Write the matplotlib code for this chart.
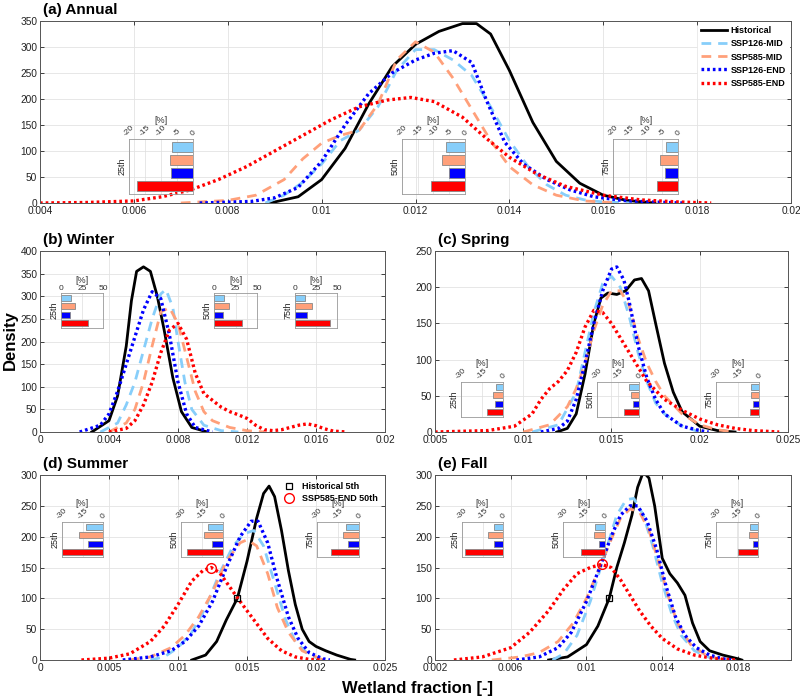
import numpy as np
import matplotlib.pyplot as plt

plt.rcParams['font.family'] = ['Liberation Sans', 'DejaVu Sans']
plt.rcParams['axes.unicode_minus'] = False

names = ['Historical', 'SSP126-MID', 'SSP585-MID', 'SSP126-END', 'SSP585-END']
colors = ['black', '#87CEFA', '#FFA07A', '#0000FF', '#FF0000']

# ---- (a) Annual: density curves, x = wetland fraction
ann_hist_x = [0.0089, 0.0095, 0.0100, 0.0105, 0.0110, 0.0115, 0.0120, 0.0125, 0.0130, 0.0133, 0.0136, 0.0140, 0.0145, 0.0150, 0.0155, 0.0160, 0.0165, 0.0171]
ann_hist_y = [0, 12, 45, 105, 190, 262, 305, 330, 345, 345, 325, 255, 155, 80, 38, 15, 5, 0]
ann_126m_x = [0.0088, 0.0092, 0.0096, 0.0100, 0.0104, 0.0108, 0.0112, 0.0116, 0.0120, 0.0124, 0.0128, 0.0132, 0.0136, 0.0140, 0.0144, 0.0148, 0.0152, 0.0156, 0.0160, 0.0166]
ann_126m_y = [0, 15, 40, 75, 120, 140, 185, 255, 295, 295, 275, 245, 185, 120, 70, 35, 15, 6, 2, 0]
ann_585m_x = [0.0070, 0.0080, 0.0086, 0.0092, 0.0096, 0.0100, 0.0104, 0.0108, 0.0112, 0.0116, 0.0120, 0.0124, 0.0128, 0.0132, 0.0136, 0.0140, 0.0145, 0.0150, 0.0156, 0.0163]
ann_585m_y = [0, 5, 15, 45, 85, 115, 130, 140, 190, 275, 310, 290, 240, 180, 120, 70, 35, 15, 4, 0]
ann_126e_x = [0.0074, 0.0085, 0.0090, 0.0095, 0.0100, 0.0105, 0.0110, 0.0115, 0.0120, 0.0124, 0.0128, 0.0132, 0.0135, 0.0139, 0.0143, 0.0148, 0.0153, 0.0158, 0.0164, 0.0170, 0.0177]
ann_126e_y = [0, 3, 10, 30, 80, 150, 210, 250, 275, 288, 293, 270, 200, 117, 75, 45, 25, 12, 5, 2, 0]
ann_585e_x = [0.0040, 0.0050, 0.0060, 0.0066, 0.0072, 0.0078, 0.0084, 0.0090, 0.0096, 0.0102, 0.0108, 0.0114, 0.0119, 0.0124, 0.0130, 0.0135, 0.0140, 0.0146, 0.0152, 0.0160, 0.0168, 0.0176, 0.0183]
ann_585e_y = [0, 1, 4, 12, 25, 45, 70, 100, 130, 160, 185, 198, 203, 195, 165, 125, 88, 55, 32, 15, 6, 2, 0]

# ---- (b) Winter
win_hist_x = [0.0030, 0.0040, 0.0045, 0.0050, 0.0053, 0.0056, 0.0060, 0.0064, 0.0068, 0.0072, 0.0077, 0.0082, 0.0088, 0.0097]
win_hist_y = [0, 25, 80, 190, 290, 355, 365, 355, 300, 225, 120, 45, 10, 0]
win_126m_x = [0.0035, 0.0045, 0.0050, 0.0055, 0.0060, 0.0065, 0.0070, 0.0073, 0.0077, 0.0080, 0.0084, 0.0088, 0.0095, 0.0105, 0.0115]
win_126m_y = [0, 20, 60, 110, 180, 250, 305, 315, 275, 200, 110, 50, 15, 3, 0]
win_585m_x = [0.0040, 0.0050, 0.0055, 0.0060, 0.0065, 0.0070, 0.0075, 0.0080, 0.0085, 0.0090, 0.0095, 0.0100, 0.0110, 0.0120, 0.0130]
win_585m_y = [0, 20, 50, 110, 190, 265, 275, 240, 165, 90, 45, 25, 10, 3, 0]
win_126e_x = [0.0023, 0.0035, 0.0040, 0.0045, 0.0050, 0.0055, 0.0060, 0.0065, 0.0070, 0.0075, 0.0080, 0.0085, 0.0090, 0.0100]
win_126e_y = [0, 15, 40, 90, 150, 210, 270, 310, 295, 215, 110, 40, 10, 0]
win_585e_x = [0.0040, 0.0050, 0.0055, 0.0060, 0.0065, 0.0070, 0.0075, 0.0080, 0.0085, 0.0090, 0.0095, 0.0100, 0.0105, 0.0110, 0.0115, 0.0120, 0.0125, 0.0130, 0.0135, 0.0140, 0.0145, 0.0150, 0.0155, 0.0160, 0.0165, 0.0170, 0.0178]
win_585e_y = [0, 8, 25, 60, 110, 175, 225, 240, 205, 130, 85, 70, 55, 45, 38, 30, 15, 5, 3, 5, 10, 15, 18, 14, 7, 2, 0]

# ---- (c) Spring
spr_hist_x = [0.0119, 0.0125, 0.0130, 0.0135, 0.0140, 0.0144, 0.0148, 0.0153, 0.0158, 0.0163, 0.0167, 0.0171, 0.0175, 0.0180, 0.0185, 0.0190, 0.0200, 0.0210, 0.0220]
spr_hist_y = [0, 5, 25, 80, 150, 185, 192, 190, 195, 210, 212, 195, 150, 95, 55, 28, 8, 2, 0]
spr_126m_x = [0.0105, 0.0120, 0.0130, 0.0135, 0.0140, 0.0145, 0.0150, 0.0155, 0.0160, 0.0165, 0.0170, 0.0175, 0.0180, 0.0190, 0.0200]
spr_126m_y = [0, 10, 55, 110, 165, 205, 215, 200, 160, 110, 70, 40, 25, 8, 0]
spr_585m_x = [0.0100, 0.0115, 0.0125, 0.0130, 0.0135, 0.0140, 0.0145, 0.0150, 0.0155, 0.0160, 0.0165, 0.0170, 0.0175, 0.0180, 0.0190, 0.0200, 0.0210, 0.0220]
spr_585m_y = [0, 10, 35, 60, 95, 140, 175, 195, 195, 175, 130, 95, 70, 50, 25, 10, 3, 0]
spr_126e_x = [0.0110, 0.0120, 0.0125, 0.0130, 0.0135, 0.0140, 0.0145, 0.0150, 0.0153, 0.0157, 0.0160, 0.0165, 0.0170, 0.0175, 0.0180, 0.0190, 0.0200, 0.0205]
spr_126e_y = [0, 5, 15, 45, 95, 150, 195, 225, 228, 210, 180, 120, 75, 45, 25, 8, 2, 0]
spr_585e_x = [0.0050, 0.0080, 0.0095, 0.0105, 0.0110, 0.0115, 0.0120, 0.0125, 0.0130, 0.0135, 0.0140, 0.0145, 0.0150, 0.0155, 0.0160, 0.0165, 0.0170, 0.0180, 0.0190, 0.0200, 0.0210, 0.0220, 0.0230, 0.0245]
spr_585e_y = [0, 2, 8, 25, 45, 60, 70, 85, 110, 145, 168, 165, 150, 130, 110, 90, 70, 45, 30, 18, 10, 5, 2, 0]

# ---- (d) Summer
sum_hist_x = [0.0110, 0.0120, 0.0128, 0.0135, 0.0143, 0.0150, 0.0157, 0.0162, 0.0166, 0.0170, 0.0175, 0.0180, 0.0185, 0.0190, 0.0195, 0.0200, 0.0207, 0.0215, 0.0225, 0.0228]
sum_hist_y = [0, 8, 30, 65, 100, 160, 230, 270, 282, 265, 210, 145, 90, 50, 30, 22, 15, 8, 1, 0]
sum_126m_x = [0.0080, 0.0090, 0.0100, 0.0110, 0.0120, 0.0130, 0.0140, 0.0148, 0.0155, 0.0162, 0.0170, 0.0178, 0.0185, 0.0195, 0.0205]
sum_126m_y = [0, 5, 20, 45, 85, 140, 185, 205, 210, 185, 125, 65, 30, 8, 0]
sum_585m_x = [0.0065, 0.0080, 0.0095, 0.0105, 0.0115, 0.0125, 0.0135, 0.0145, 0.0150, 0.0157, 0.0165, 0.0172, 0.0180, 0.0190, 0.0205]
sum_585m_y = [0, 5, 20, 40, 70, 110, 160, 190, 195, 185, 140, 85, 45, 15, 0]
sum_126e_x = [0.0060, 0.0080, 0.0095, 0.0105, 0.0115, 0.0125, 0.0135, 0.0145, 0.0153, 0.0158, 0.0165, 0.0172, 0.0180, 0.0187, 0.0195, 0.0205, 0.0210]
sum_126e_y = [0, 5, 15, 30, 55, 95, 150, 200, 225, 225, 190, 130, 70, 35, 12, 2, 0]
sum_585e_x = [0.0030, 0.0050, 0.0065, 0.0080, 0.0090, 0.0100, 0.0110, 0.0118, 0.0124, 0.0130, 0.0137, 0.0145, 0.0155, 0.0165, 0.0175, 0.0185, 0.0195, 0.0205]
sum_585e_y = [0, 3, 10, 30, 55, 90, 128, 145, 150, 142, 120, 95, 65, 35, 15, 5, 1, 0]

# ---- (e) Fall
fal_hist_x = [0.0080, 0.0090, 0.0100, 0.0106, 0.0112, 0.0116, 0.0120, 0.0124, 0.0127, 0.0130, 0.0133, 0.0136, 0.0140, 0.0144, 0.0148, 0.0152, 0.0156, 0.0160, 0.0165, 0.0172, 0.0180, 0.0182]
fal_hist_y = [0, 5, 25, 55, 100, 150, 190, 235, 280, 305, 295, 250, 165, 140, 125, 105, 60, 30, 15, 8, 2, 0]
fal_126m_x = [0.0082, 0.0088, 0.0095, 0.0102, 0.0110, 0.0116, 0.0121, 0.0125, 0.0130, 0.0135, 0.0140, 0.0145, 0.0150, 0.0157, 0.0165, 0.0175]
fal_126m_y = [0, 10, 40, 95, 175, 235, 260, 262, 235, 185, 125, 75, 40, 15, 4, 0]
fal_585m_x = [0.0050, 0.0065, 0.0075, 0.0085, 0.0093, 0.0100, 0.0107, 0.0113, 0.0118, 0.0123, 0.0128, 0.0133, 0.0138, 0.0143, 0.0148, 0.0155, 0.0163, 0.0172]
fal_585m_y = [0, 5, 12, 30, 60, 100, 150, 195, 230, 245, 240, 210, 160, 105, 60, 25, 8, 0]
fal_126e_x = [0.0063, 0.0075, 0.0085, 0.0092, 0.0100, 0.0107, 0.0113, 0.0118, 0.0123, 0.0127, 0.0132, 0.0137, 0.0142, 0.0147, 0.0152, 0.0158, 0.0165, 0.0172, 0.0178]
fal_126e_y = [0, 5, 20, 45, 95, 150, 200, 235, 250, 250, 225, 180, 120, 70, 40, 20, 8, 2, 0]
fal_585e_x = [0.0030, 0.0045, 0.0060, 0.0070, 0.0080, 0.0088, 0.0095, 0.0102, 0.0108, 0.0113, 0.0118, 0.0123, 0.0128, 0.0134, 0.0140, 0.0148, 0.0157, 0.0168, 0.0180]
fal_585e_y = [0, 5, 20, 45, 80, 115, 140, 150, 155, 150, 130, 105, 80, 55, 35, 18, 8, 2, 0]

# markers: Historical 5th and SSP585-END 50th (summer, fall)
sum_hist_p5 = (0.0143, 100)
sum_585e_p50 = (0.0124, 150)
fal_hist_p5 = (0.0112, 100)
fal_585e_p50 = (0.0108, 155)

# ---- percent change of 25th/50th/75th percentiles
# order: SSP126-MID, SSP585-MID, SSP126-END, SSP585-END
pct_names = ['25th', '50th', '75th']
ann_pct = [[-6.6, -7.2, -6.9, -17.4], [-6.0, -7.2, -5.2, -10.7], [-3.7, -5.5, -4.0, -6.5]]
win_pct = [[12, 17, 11, 32], [12, 17, 11, 33], [12, 20.5, 14, 42]]
spr_pct = [[-5.2, -7.0, -5.6, -11.7], [-7.0, -6.0, -4.2, -10.8], [-5.6, -5.6, -4.2, -6.0]]
sum_pct = [[-12.7, -17.3, -10.8, -30], [-10.8, -13.7, -8.0, -26], [-9.1, -11.3, -8.2, -20]]
fal_pct = [[-6.6, -11.3, -6.6, -28], [-7.0, -7.8, -4.5, -17.2], [-5.4, -6.4, -3.5, -14]]

W, H = 800, 700
fig = plt.figure(figsize=(8, 7), dpi=100)


def rect(l, t, r, b):
    return [l / W, 1 - b / H, (r - l) / W, (b - t) / H]


styles = [dict(ls='-', lw=2.0),
          dict(ls=(0, (3.5, 2.5)), lw=2.0),
          dict(ls=(0, (3.5, 2.5)), lw=2.0),
          dict(ls=(0, (0.8, 0.9)), lw=2.4),
          dict(ls=(0, (0.8, 0.9)), lw=2.4)]


def title_at(x, y, s):
    fig.text(x / W, 1 - y / H, s, fontsize=11, fontweight='bold', va='center', ha='left')


def inset(box, vals, label, xlim, xticks, rot):
    ax = fig.add_axes(rect(*box))
    ax.set_facecolor('none')
    ax.set_axisbelow(True)
    ypos = [1, 2, 3, 4]
    ax.barh(ypos, vals, height=0.75, color=colors[1:], edgecolor='#888888', lw=0.6)
    ax.set_ylim(4.6, 0.4)
    ax.set_xlim(xlim)
    ax.set_xticks(xticks)
    ax.set_yticks([])
    ax.xaxis.tick_top()
    ax.xaxis.set_label_position('top')
    ax.set_xticklabels([str(v) for v in xticks], rotation=rot, fontsize=6, color='#333333')
    ax.tick_params(length=0, pad=1)
    ax.set_xlabel('[%]', fontsize=6.5, color='#333333', labelpad=1)
    ax.set_ylabel(label, fontsize=6.5, color='#222222', labelpad=2)
    ax.grid(True, axis='x', color='#dddddd', lw=0.5)
    for s in ax.spines.values():
        s.set_color('#999999')
        s.set_linewidth(0.6)
    return ax


pan = [
    ((40, 21, 791, 203), [(ann_hist_x, ann_hist_y), (ann_126m_x, ann_126m_y), (ann_585m_x, ann_585m_y), (ann_126e_x, ann_126e_y), (ann_585e_x, ann_585e_y)],
     (0.004, 0.02), np.arange(0.004, 0.0201, 0.002), (0, 350), range(0, 351, 50), '(a) Annual'),
    ((40, 251, 385, 432), [(win_hist_x, win_hist_y), (win_126m_x, win_126m_y), (win_585m_x, win_585m_y), (win_126e_x, win_126e_y), (win_585e_x, win_585e_y)],
     (0, 0.02), np.arange(0, 0.0201, 0.004), (0, 400), range(0, 401, 50), '(b) Winter'),
    ((435, 251, 788, 432), [(spr_hist_x, spr_hist_y), (spr_126m_x, spr_126m_y), (spr_585m_x, spr_585m_y), (spr_126e_x, spr_126e_y), (spr_585e_x, spr_585e_y)],
     (0.005, 0.025), np.arange(0.005, 0.0251, 0.005), (0, 250), range(0, 251, 50), '(c) Spring'),
    ((40, 475, 385, 660), [(sum_hist_x, sum_hist_y), (sum_126m_x, sum_126m_y), (sum_585m_x, sum_585m_y), (sum_126e_x, sum_126e_y), (sum_585e_x, sum_585e_y)],
     (0, 0.025), np.arange(0, 0.0251, 0.005), (0, 300), range(0, 301, 50), '(d) Summer'),
    ((435, 475, 791, 660), [(fal_hist_x, fal_hist_y), (fal_126m_x, fal_126m_y), (fal_585m_x, fal_585m_y), (fal_126e_x, fal_126e_y), (fal_585e_x, fal_585e_y)],
     (0.002, 0.0208), np.arange(0.002, 0.0181, 0.004), (0, 300), range(0, 301, 50), '(e) Fall'),
]

axes = []
for box, curves, xl, xt, yl, yt, ttl in pan:
    ax = fig.add_axes(rect(*box))
    for (x, y), c, st, n in zip(curves, colors, styles, names):
        ax.plot(x, y, color=c, label=n, **st)
    ax.set_xlim(xl)
    ax.set_ylim(yl)
    xt = np.round(xt, 4)
    ax.set_xticks(xt)
    ax.set_xticklabels([('%g' % v) for v in xt])
    ax.set_yticks(list(yt))
    ax.grid(True, color='#e3e3e3', lw=0.6)
    ax.set_axisbelow(True)
    ax.tick_params(direction='in', length=3, width=0.6, labelsize=7.3, top=True, right=True, colors='#222222', pad=2)
    for s in ax.spines.values():
        s.set_color('#555555')
        s.set_linewidth(0.7)
    title_at(box[0] + 3, box[1] - 11, ttl)
    axes.append(ax)

leg = axes[0].legend(loc='upper right', fontsize=6.5, handlelength=2.8, handletextpad=0.4, labelspacing=0.45,
                     frameon=True, framealpha=1, edgecolor='white', borderaxespad=0.2)
for t in leg.get_texts():
    t.set_fontweight('bold')

# percentile markers
ax_d, ax_e = axes[3], axes[4]
for ax, p5, p50 in [(ax_d, sum_hist_p5, sum_585e_p50), (ax_e, fal_hist_p5, fal_585e_p50)]:
    ax.plot([p5[0]], [p5[1]], ls='none', marker='s', ms=5, mfc='none', mec='black', mew=0.9, label='Historical 5th')
    ax.plot([p50[0]], [p50[1]], ls='none', marker='o', ms=7, mfc='none', mec='red', mew=1.0, label='SSP585-END 50th')
h, l = ax_d.get_legend_handles_labels()
lg2 = ax_d.legend(h[5:], l[5:], loc='upper right', fontsize=6.5, frameon=False, handletextpad=0.4,
                  labelspacing=0.3, borderaxespad=0.4, bbox_to_anchor=(1.0, 1.0))
for t in lg2.get_texts():
    t.set_fontweight('bold')

# insets
ins = [
    (ann_pct, [(129, 139, 193, 194), (402, 139, 465, 194), (613, 139, 678, 194)], (-20, 0), [-20, -15, -10, -5, 0], 45),
    (win_pct, [(61, 293, 103, 328), (214, 293, 257, 328), (295, 293, 337, 328)], (0, 50), [0, 25, 50], 0),
    (spr_pct, [(461, 382, 503, 417), (597, 382, 639, 417), (716, 382, 759, 417)], (-30, 0), [-30, -15, 0], 45),
    (sum_pct, [(62, 522, 103, 557), (181, 522, 223, 557), (317, 522, 359, 557)], (-30, 0), [-30, -15, 0], 45),
    (fal_pct, [(462, 522, 503, 557), (563, 522, 605, 557), (716, 522, 758, 557)], (-30, 0), [-30, -15, 0], 45),
]
for pct, boxes, xl, xt, rot in ins:
    for v, b, n in zip(pct, boxes, pct_names):
        inset(b, v, n, xl, xt, rot)

fig.text(10 / W, 1 - 340 / H, 'Density', rotation=90, fontsize=12, fontweight='bold', va='center', ha='center')
fig.text(418 / W, 1 - 689 / H, 'Wetland fraction [-]', fontsize=12, fontweight='bold', va='center', ha='center')

fig.savefig('out.png', dpi=100)
